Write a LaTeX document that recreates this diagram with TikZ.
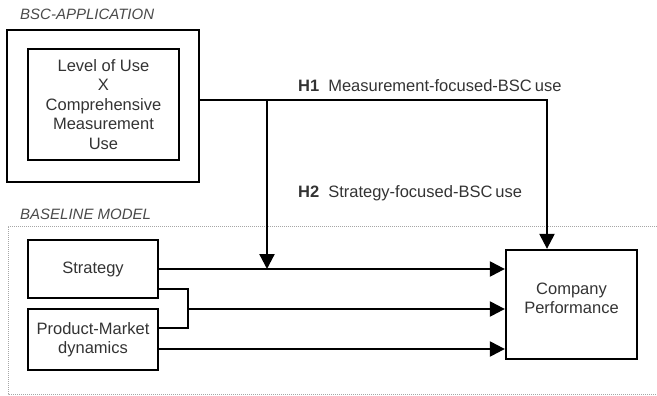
\documentclass[tikz,border=0pt]{standalone}
\usepackage{fontspec}
\setmainfont{Liberation Sans}
\usetikzlibrary{arrows.meta}
\definecolor{txt}{HTML}{333333}
\definecolor{lbl}{HTML}{4A4A4A}
\tikzset{
  box/.style={draw=black, line width=2.3pt, rectangle, inner sep=0pt, text=txt, align=center,
    font=\fontsize{16.5}{19.5}\selectfont},
  conn/.style={line width=2.3pt},
  arr/.style={line width=2.3pt, -{Triangle[length=15pt,width=15pt]}},
  txtnode/.style={inner sep=0pt, text=txt, font=\fontsize{16.5}{19}\selectfont, align=center},
  seclabel/.style={inner sep=0pt, anchor=west, text=lbl, font=\fontsize{15}{18}\selectfont\itshape},
  hyp/.style={inner sep=0pt, anchor=west, text=txt, font=\fontsize{16.5}{19}\selectfont},
  dotline/.style={draw=gray!70, line width=0.8pt, dash pattern=on 1pt off 1pt}
}
\begin{document}
\begin{tikzpicture}[x=1pt,y=-1pt]
\useasboundingbox (0,0) rectangle (657,396);
% section labels
\node[seclabel] (lblbsc) at (20,14) {BSC-APPLICATION};
\node[seclabel] (lblbase) at (20,214) {BASELINE MODEL};
% baseline dotted frame
\draw[dotline] (657,226) -- (8,226) -- (8,394) -- (657,394);
% BSC boxes
\node[box, minimum width=192pt, minimum height=152pt] (bscout) at (103,106) {};
\node[box, minimum width=151pt, minimum height=111pt] (bscin) at (103.5,104.5)
  {Level of Use\\X\\Comprehensive\\Measurement\\Use};
% baseline boxes
\node[box, minimum width=130pt, minimum height=58pt] (strategy) at (93,269) {Strategy};
\node[box, minimum width=130pt, minimum height=61pt] (pmd) at (93,339.5) {Product-Market\\dynamics};
\node[box, minimum width=131pt, minimum height=109pt] (perf) at (571.5,304.5) {};
\node[txtnode] (perftext) at (571.5,298) {Company\\Performance};
% hypotheses labels
\node[hyp] (h1) at (298,86) {\textbf{H1}\hspace{9pt}Measurement-focused-BSC\hspace{3pt}use};
\node[hyp] (h2) at (298,193) {\textbf{H2}\hspace{9pt}Strategy-focused-BSC\hspace{3pt}use};
% junction coordinates
\coordinate (j1) at (267,100);
\coordinate (c1) at (547,100);
\coordinate (b1) at (158,289);
\coordinate (b2) at (158,328);
\coordinate (bt) at (188,289);
\coordinate (bb) at (188,328);
\coordinate (bm) at (188,309);
\coordinate (p1) at (158,349);
% connectors
\draw[arr] (bscout.east |- c1) -- (c1) -- (c1 |- perf.north);
\draw[arr] (j1) -- (j1 |- strategy.east);
\draw[arr] (strategy.east) -- (perf.west |- strategy.east);
\draw[conn] (b1) -- (bt) -- (bb) -- (b2);
\draw[arr] (bm) -- (perf.west |- bm);
\draw[arr] (p1) -- (perf.west |- p1);
\end{tikzpicture}
\end{document}
